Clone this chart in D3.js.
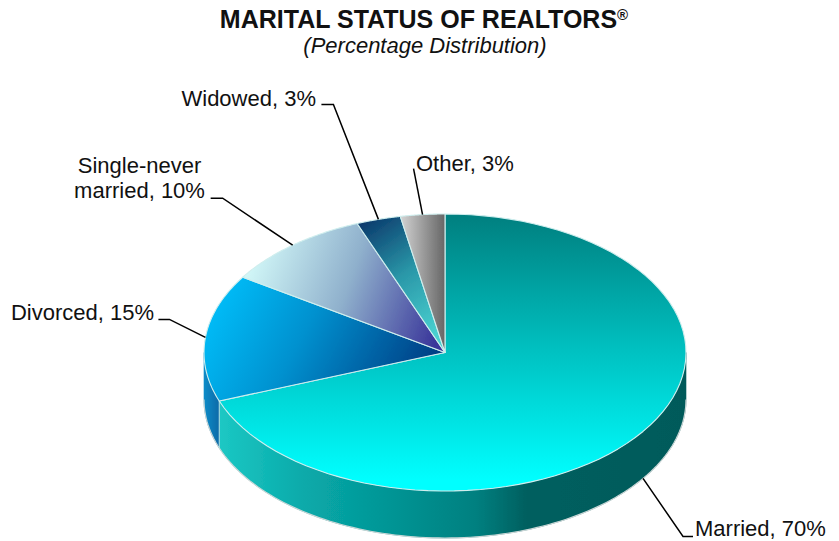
<!DOCTYPE html>
<html><head><meta charset="utf-8">
<script src="https://cdn.jsdelivr.net/npm/d3@7/dist/d3.min.js"></script>
<style>
html,body{margin:0;padding:0;background:#fff}
text{font-family:"Liberation Sans",Arial,sans-serif;fill:#111}
</style></head><body>
<svg id="c" width="839" height="541" viewBox="0 0 839 541" style="display:block"></svg>
<script>
const categories = ["Married","Divorced","Single-never married","Widowed","Other"];
const values = [70,15,10,3,3];
const labelLines = [["Married, 70%"],["Divorced, 15%"],["Single-never","married, 10%"],["Widowed, 3%"],["Other, 3%"]];
const titleText = "MARITAL STATUS OF REALTORS";
const subtitleText = "(Percentage Distribution)";

const cx=445,cy=352.5,rx=241,ry=138.5,depth=47;
const svg=d3.select("#c");
const defs=svg.append("defs");
defs.append("filter").attr("id","soft").attr("x","-5%").attr("y","-5%").attr("width","110%").attr("height","110%")
  .append("feGaussianBlur").attr("stdDeviation",0.45);
function grad(id,x1,y1,x2,y2,stops){
  const g=defs.append("linearGradient").attr("id",id).attr("gradientUnits","userSpaceOnUse")
    .attr("x1",x1).attr("y1",y1).attr("x2",x2).attr("y2",y2);
  stops.forEach(s=>g.append("stop").attr("offset",s[0]).attr("stop-color",s[1]));
}
grad("g0",0,214,0,480,[[0,"#007f7f"],[1,"#00ffff"]]);
grad("g1",205,285,420,400,[[0,"#00c4ff"],[.45,"#0091cf"],[1,"#003a80"]]);
grad("g2",250,260,440,330,[[0,"#d2f8f8"],[.5,"#8fb0cc"],[1,"#3a369a"]]);
grad("g3",365,220,440,330,[[0,"#0a3a6c"],[.5,"#2a97a8"],[1,"#48cfcf"]]);
grad("g4",402,0,445,0,[[0,"#cfcfcf"],[1,"#666"]]);
grad("w0",219,0,686,0,[[0,"#1cc8c4"],[.18,"#08aaaa"],[.55,"#008080"],[.66,"#005f5f"],[1,"#005a5a"]]);
grad("w1",204,0,219,0,[[0,"#0a8cc8"],[1,"#0f6aa8"]]);

const pie=d3.pie().sort(null).value(d=>d);
const arcs=pie(values);
const sx=d3.scaleLinear().domain([-1,1]).range([cx-rx,cx+rx]);
const sy=d3.scaleLinear().domain([-1,1]).range([cy-ry,cy+ry]);
const px=a=>sx(Math.sin(a)), py=a=>sy(-Math.cos(a));

const line=d3.line().x(d=>d[0]).y(d=>d[1]);
const body=svg.append("g").attr("filter","url(#soft)");
function wall(a0,a1){
  const t=d3.range(0,61).map(i=>a0+(a1-a0)*i/60);
  const upper=t.map(a=>[px(a),py(a)]);
  const lower=t.slice().reverse().map(a=>[px(a),py(a)+depth]);
  return line(upper.concat(lower))+"Z";
}
const vis0=Math.PI/2, vis1=3*Math.PI/2;
arcs.forEach((d,i)=>{
  const a0=Math.max(d.startAngle,vis0),a1=Math.min(d.endAngle,vis1);
  if(a1>a0){
    body.append("path").attr("d",wall(a0,a1)).attr("fill",`url(#w${i})`)
      .attr("stroke",`url(#w${i})`).attr("stroke-width",.6);
  }
});
const rimT=d3.range(0,121).map(i=>vis0+(vis1-vis0)*i/120);
body.append("path").attr("d",line(rimT.map(a=>[px(a),py(a)+depth])))
  .attr("fill","none").attr("stroke","#c9d6d6").attr("stroke-width",1.2);
body.append("path").attr("d",line([[px(arcs[0].endAngle),py(arcs[0].endAngle)],[px(arcs[0].endAngle),py(arcs[0].endAngle)+depth]]))
  .attr("stroke","#b8e6e6").attr("stroke-width",1).attr("fill","none");

const faces=body.append("g");
arcs.forEach((d,i)=>{
  const t=d3.range(0,81).map(k=>d.startAngle+(d.endAngle-d.startAngle)*k/80);
  const pts=[[cx,cy]].concat(t.map(a=>[px(a),py(a)]));
  faces.append("path").attr("d",line(pts)+"Z").attr("fill",`url(#g${i})`)
    .attr("stroke","#cfeeee").attr("stroke-width",1.1).attr("stroke-linejoin","round");
});

const leaderOffsets=[[[40,58],[50,58]],[[-36,-18],[-47,-18]],[[-70,-47],[-82,-47]],[[-45,-115],[-57,-115]],[[-9,-46]]];
const leaders=svg.append("g").attr("fill","none").attr("stroke","#000").attr("stroke-width",1.5);
arcs.forEach((d,i)=>{
  const m=(d.startAngle+d.endAngle)/2;
  const x0=px(m), y0=py(m)+(i===0?depth:0);
  const pts=[[x0,y0]].concat(leaderOffsets[i].map(o=>[x0+o[0],y0+o[1]]));
  leaders.append("path").attr("d",line(pts));
});

const labelPos=[[695,536,"start"],[154,320,"end"],[204,198,"end"],[316,106,"end"],[416,171,"start"]];
const labels=svg.append("g").attr("font-size",22);
labelLines.forEach((ls,i)=>{
  const p=labelPos[i];
  ls.forEach((t,k)=>{
    const multi=ls.length>1;
    labels.append("text").attr("x",multi?139.5:p[0]).attr("y",p[1]-(ls.length-1-k)*25.5)
      .attr("text-anchor",multi?"middle":p[2]).text(t);
  });
});

const tt=svg.append("text").attr("x",424).attr("y",28).attr("text-anchor","middle")
  .attr("font-size",25).attr("font-weight","bold");
tt.append("tspan").text(titleText);
tt.append("tspan").attr("font-size",15).attr("dy",-8).text("®");
svg.append("text").attr("x",425).attr("y",53).attr("text-anchor","middle")
  .attr("font-size",22).attr("font-style","italic").text(subtitleText);
</script>
</body></html>
